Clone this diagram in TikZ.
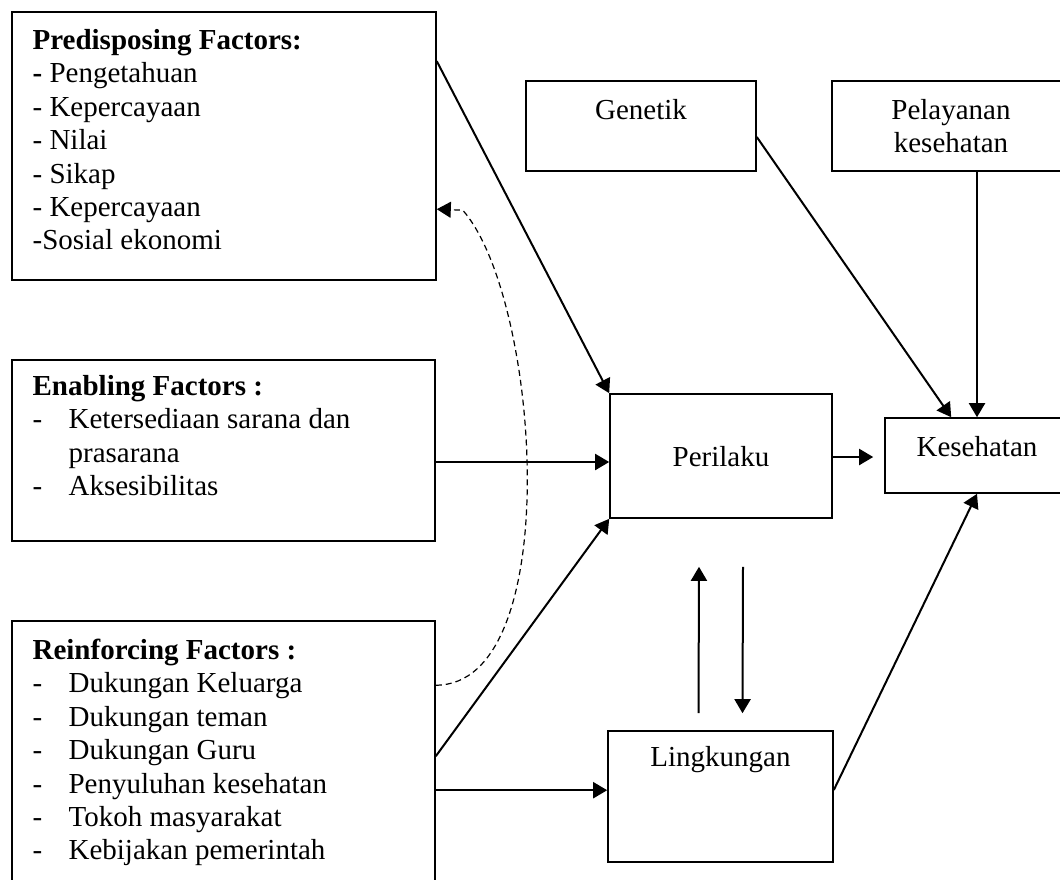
\documentclass[tikz,border=0pt]{standalone}
\usepackage{fontspec}
\setmainfont{Liberation Serif}
\usepackage{tikz}
\usetikzlibrary{arrows.meta,calc,positioning}

\newcommand{\dashitem}{\makebox[18pt][l]{-}}
\newcommand{\hangitem}{\hspace*{18pt}}

\begin{document}
\begin{tikzpicture}[x=0.5pt,y=-0.5pt,
		box/.style={draw, line width=0.8pt, inner sep=0pt},
		txt/.style={inner sep=0pt, font=\fontsize{14.5}{16.7}\selectfont},
		list/.style={txt, align=left, anchor=north west},
		arr/.style={line width=1pt, -{Triangle[length=7pt,width=8pt]}},
		dashline/.style={line width=0.6pt, dash pattern=on 3pt off 2pt, -{Triangle[length=7pt,width=8pt]}}]
		\useasboundingbox (0,0) rectangle (1060,879);

		% factor boxes
		\node[box, minimum width=212pt, minimum height=134pt] (pred) at (224,146) {};
		\node[box, minimum width=211.5pt, minimum height=90.5pt] (enab) at (223.5,450.5) {};
		\node[box, minimum width=211.5pt, minimum height=139.5pt] (reinf) at (223.5,760.5) {};
		\node[list] (predT) at ($(pred.north west)+(21,14.6)$) {\strut\textbf{Predisposing Factors:}\\
			\textbf{-} Pengetahuan\\- Kepercayaan\\- Nilai\\- Sikap\\- Kepercayaan\\-Sosial ekonomi};
		\node[list] (enabT) at ($(enab.north west)+(21,12.6)$) {\strut\textbf{Enabling Factors :}\\
			\dashitem Ketersediaan sarana dan\\\hangitem prasarana\\\dashitem Aksesibilitas};
		\node[list] (reinfT) at ($(reinf.north west)+(21,15.6)$) {\strut\textbf{Reinforcing Factors :}\\
			\dashitem Dukungan Keluarga\\\dashitem Dukungan teman\\\dashitem Dukungan Guru\\
			\dashitem Penyuluhan kesehatan\\\dashitem Tokoh masyarakat\\\dashitem Kebijakan pemerintah};

		% right side boxes
		\node[box, minimum width=115pt, minimum height=45pt] (gen) at (641,126) {};
		\node[box, minimum width=119pt, minimum height=45pt] (pel) at (951,126) {};
		\node[box, minimum width=111pt, minimum height=62pt] (peri) at (721,456) {};
		\node[box, minimum width=92pt, minimum height=37.5pt] (kes) at (977,455.5) {};
		\node[box, minimum width=112.5pt, minimum height=65.5pt] (ling) at (720.5,796.5) {};
		\node[txt, anchor=base] (genT) at ($(gen.north)+(0,39)$) {Genetik};
		\node[txt, align=center, anchor=north] (pelT) at ($(pel.north)+(0,15.6)$) {\strut Pelayanan\\kesehatan};
		\node[txt, anchor=base] (periT) at ($(peri.center)+(0,10)$) {Perilaku};
		\node[txt, anchor=base] (kesT) at ($(kes.north)+(0,39)$) {Kesehatan};
		\node[txt, anchor=base] (lingT) at ($(ling.north)+(0,36)$) {Lingkungan};

		% connectors
		\coordinate (e1) at ($(enab.east)+(0,11.5)$);
		\coordinate (r1) at ($(reinf.north east)+(0,170)$);
		\coordinate (p1) at ($(peri.east)+(0,1)$);
		\draw[arr] ($(pred.north east)+(0,50)$) -- (peri.north west);
		\draw[arr] (e1) -- (e1 -| peri.west);
		\draw[arr] ($(reinf.north east)+(0,136)$) -- (peri.south west);
		\draw[arr] (r1) -- (r1 -| ling.west);
		\draw[arr] (p1) -- ($(p1 -| kes.west)+(-11,0)$);
		\draw[arr] ($(gen.east)+(0,11)$) -- ($(kes.north west)+(67,0)$);
		\draw[arr] (kes.north |- pel.south) -- (kes.north);
		\draw[arr] ($(ling.east)+(0,-6.5)$) -- (kes.south);

		% feedback between Perilaku and Lingkungan
		\coordinate (up1) at ($(ling.north)+(-22,-17)$);
		\coordinate (up2) at ($(peri.south)+(-22,48)$);
		\coordinate (dn1) at ($(peri.south)+(22,48)$);
		\coordinate (dn2) at ($(ling.north)+(22,-17)$);
		\draw[arr] (up1) -- (up2);
		\draw[arr] (dn1) -- (dn2);

		% dashed link back to Predisposing
		\coordinate (d1) at ($(reinf.north east)+(0,65)$);
		\coordinate (d2) at ($(pred.north east)+(0,198)$);
		\coordinate (d3) at ($(d2)+(26,1)$);
		\draw[dashline] (d1) .. controls +(130,0) and +(78,89) .. (d3) -- (d2);
	\end{tikzpicture}
\end{document}
